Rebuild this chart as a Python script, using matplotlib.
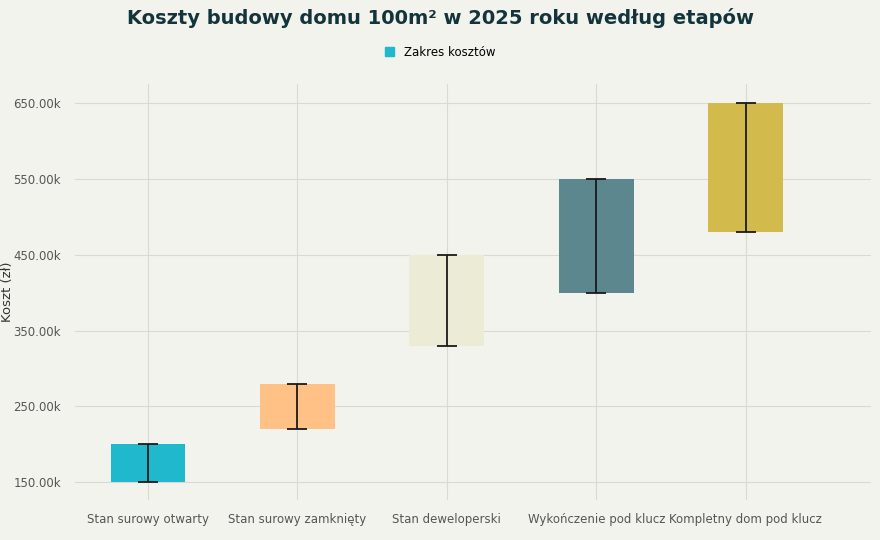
import matplotlib.pyplot as plt
from matplotlib.patches import Patch

categories = ["Stan surowy otwarty", "Stan surowy zamknięty", "Stan deweloperski",
              "Wykończenie pod klucz", "Kompletny dom pod klucz"]
min_vals = [150, 220, 330, 400, 480]
max_vals = [200, 280, 450, 550, 650]
colors = ["#1FB8CD", "#FFC185", "#ECEBD5", "#5D878F", "#D2BA4C"]
yticks = [150, 250, 350, 450, 550, 650]

bg = "#F3F3EE"
fig = plt.figure(figsize=(8.8, 5.4), dpi=100, facecolor=bg)
ax = fig.add_axes([0.085, 0.075, 0.905, 0.77], facecolor=bg)

x = list(range(len(categories)))
heights = [b - a for a, b in zip(min_vals, max_vals)]
ax.bar(x, heights, bottom=min_vals, width=0.5, color=colors, zorder=2)
mids = [(a + b) / 2 for a, b in zip(min_vals, max_vals)]
err = [h / 2 for h in heights]
ax.errorbar(x, mids, yerr=err, fmt="none", ecolor="#1a1a1a", elinewidth=1.3,
            capsize=7, capthick=1.3, zorder=3)

ax.set_xlim(-0.49, 4.84)
ax.set_ylim(127, 676)
ax.set_xticks(x)
ax.set_xticklabels(categories, fontsize=8.5, color="#555555")
ax.set_yticks(yticks)
ax.set_yticklabels([f"{v:.2f}k" for v in yticks], fontsize=8.5, color="#555555")
ax.set_ylabel("Koszt (zł)", fontsize=9.5, color="#333333", labelpad=2)
ax.yaxis.set_label_coords(-0.076, 0.5)
ax.grid(True, color="#DADAD5", linewidth=0.8, zorder=0)
ax.tick_params(axis="y", length=0, pad=10)
ax.tick_params(axis="x", length=0, pad=10)
for s in ax.spines.values():
    s.set_visible(False)

fig.suptitle("Koszty budowy domu 100m² w 2025 roku według etapów", fontsize=14,
             fontweight="bold", color="#13343B", y=0.985)
fig.legend(handles=[Patch(color="#1FB8CD", label="Zakres kosztów")],
           loc="upper center", bbox_to_anchor=(0.5, 0.935), frameon=False,
           fontsize=8.5, handlelength=0.8, handleheight=0.8)
fig.savefig("out.png", dpi=100, facecolor=bg)
